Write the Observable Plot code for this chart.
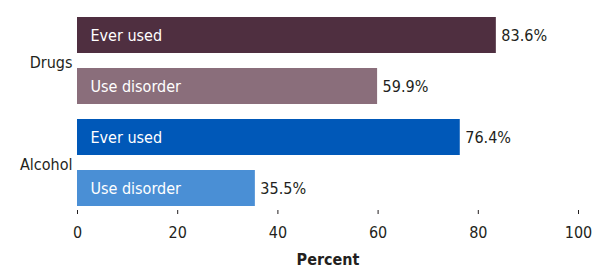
<!DOCTYPE html>
<html>
<head>
<meta charset="utf-8">
<script src="https://cdn.jsdelivr.net/npm/d3@7"></script>
<script src="https://cdn.jsdelivr.net/npm/@observablehq/plot@0.6"></script>
<style>
  html, body { margin: 0; padding: 0; background: #fff; }
  #chart svg { display: block; }
  g[aria-label="x-axis label"] text { font-weight: bold; }
</style>
</head>
<body>
<div id="chart"></div>
<script>
const groups = ["Drugs", "Drugs", "Alcohol", "Alcohol"];
const measures = ["Ever used", "Use disorder", "Ever used", "Use disorder"];
const values = [83.6, 59.9, 76.4, 35.5];
const barColors = ["#4f2f40", "#8a6e7b", "#0058b8", "#4a8fd5"];
const xTicks = [0, 20, 40, 60, 80, 100];
const xLabel = "Percent";

const rows = groups.map((g, i) => ({group: g, measure: measures[i], value: values[i], key: g + " | " + measures[i]}));
const keys = rows.map(d => d.key);
const groupFirst = rows.filter((d, i) => i === 0 || rows[i - 1].group !== d.group);

const font = "'DejaVu Sans Condensed', 'Liberation Sans Narrow', sans-serif";
const ink = "#231f20";
const fs = 16;

const chart = Plot.plot({
  width: 596,
  height: 271,
  marginLeft: 77,
  marginRight: 18,
  marginTop: 10,
  marginBottom: 57,
  style: {fontFamily: font, fontSize: fs + "px", color: ink, background: "#fff"},
  x: {domain: [0, 100]},
  y: {domain: keys, paddingInner: 0.29, paddingOuter: 0.126},
  color: {domain: keys, range: barColors},
  marks: [
    Plot.barX(rows, {x: "value", y: "key", fill: "key"}),
    Plot.text(rows, {x: 0, y: "key", text: "measure", textAnchor: "start", dx: 13, fill: "white", fontSize: fs}),
    Plot.text(rows, {x: "value", y: "key", text: d => d.value.toFixed(1) + "%", textAnchor: "start", dx: 5, fill: ink, fontSize: fs}),
    Plot.text(groupFirst, {x: 0, y: "key", text: "group", textAnchor: "end", dx: -5, dy: 27, fill: ink, fontSize: fs}),
    Plot.axisY({tickSize: 0, tickFormat: () => "", line: true, stroke: ink, label: null}),
    Plot.axisX({ticks: xTicks, tickSize: -4, tickPadding: 16, line: true, stroke: ink, label: xLabel, labelArrow: "none", labelAnchor: "center", labelOffset: 50})
  ]
});
document.getElementById("chart").append(chart);
</script>
</body>
</html>
